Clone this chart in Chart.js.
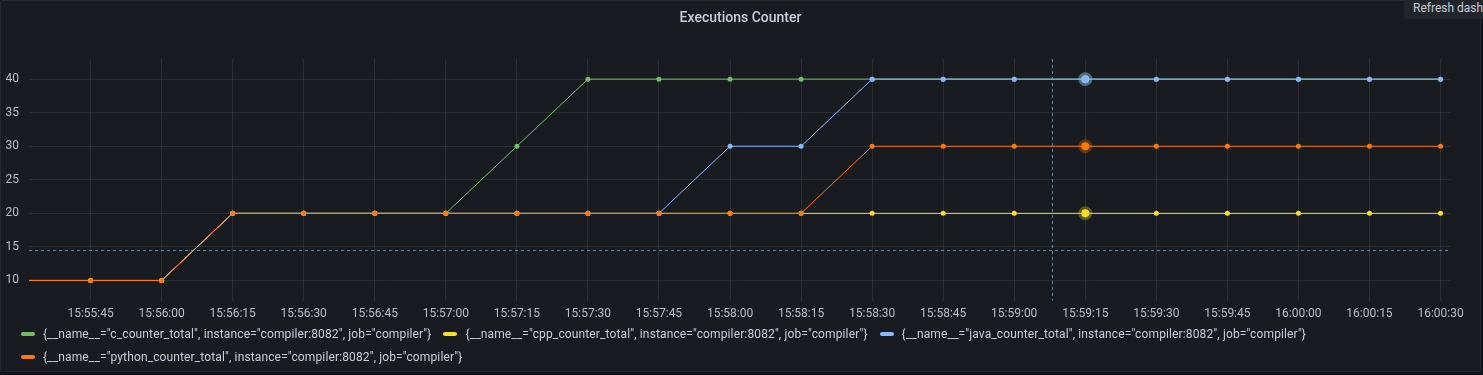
<!DOCTYPE html>
<html>
<head>
<meta charset="utf-8">
<script src="https://cdn.jsdelivr.net/npm/chart.js@4"></script>
<style>
  html, body { margin: 0; padding: 0; background: #111217; overflow: hidden; }
  body { width: 1483px; height: 375px; position: relative; font-family: Roboto, "Noto Sans", sans-serif; }
  #panel { position: absolute; left: 0; top: 0; width: 1479px; height: 370px; background: #181b1f;
           border: 1px solid rgba(204,204,220,0.08); border-radius: 2px; }
  #title { position: absolute; left: 0; top: 8px; width: 1479px; text-align: center;
           color: #ccccdc; font-size: 14px; font-weight: 500; }
  #chartbox { position: absolute; left: 0; top: 0; width: 1479px; height: 326px; }
  #legend { position: absolute; left: 20px; top: 321px; width: 1440px; display: flex; flex-wrap: wrap;
            color: #ccccdc; font-size: 12px; letter-spacing: 0.13px; }
  .item { display: flex; align-items: center; height: 23px; margin-right: 12px; white-space: nowrap; }
  .swatch { width: 14px; height: 4px; border-radius: 2px; margin-right: 8px; }
  #tip { position: absolute; left: 1404px; top: 0; width: 120px; height: 19px; background: #22252b;
         color: #ccccdc; font-size: 12px; line-height: 17px; padding-left: 9px; white-space: nowrap;
         border-radius: 2px; }
</style>
</head>
<body>
<div id="panel">
  <div id="chartbox"><canvas id="chart"></canvas></div>
  <div id="title">Executions Counter</div>
  <div id="legend"></div>
</div>
<div id="tip">Refresh dashboard</div>
<script>
// scrape times (every 15s)
const times = ['15:55:30', '15:55:45', '15:56:00', '15:56:15', '15:56:30', '15:56:45', '15:57:00',
  '15:57:15', '15:57:30', '15:57:45', '15:58:00', '15:58:15', '15:58:30', '15:58:45', '15:59:00',
  '15:59:15', '15:59:30', '15:59:45', '16:00:00', '16:00:15', '16:00:30'];

const cCounter      = [10, 10, 10, 20, 20, 20, 20, 30, 40, 40, 40, 40, 40, 40, 40, 40, 40, 40, 40, 40, 40];
const cppCounter    = [10, 10, 10, 20, 20, 20, 20, 20, 20, 20, 20, 20, 20, 20, 20, 20, 20, 20, 20, 20, 20];
const javaCounter   = [10, 10, 10, 20, 20, 20, 20, 20, 20, 20, 30, 30, 40, 40, 40, 40, 40, 40, 40, 40, 40];
const pythonCounter = [10, 10, 10, 20, 20, 20, 20, 20, 20, 20, 20, 20, 30, 30, 30, 30, 30, 30, 30, 30, 30];

const seriesNames = [
  '{__name__="c_counter_total", instance="compiler:8082", job="compiler"}',
  '{__name__="cpp_counter_total", instance="compiler:8082", job="compiler"}',
  '{__name__="java_counter_total", instance="compiler:8082", job="compiler"}',
  '{__name__="python_counter_total", instance="compiler:8082", job="compiler"}'
];
const seriesColors = ['#73bf69', '#fade2a', '#8ab8ff', '#ff780a'];

const yTicks = [10, 15, 20, 25, 30, 35, 40];
const xRange = ['15:55:32', '16:00:32'];
const hoverTime = '15:59:15';
const cursor = { time: '15:59:08', value: 14.5 };

function toSec(t) {
  const p = t.split(':').map(Number);
  return p[0] * 3600 + p[1] * 60 + p[2];
}
function fmt(s) {
  const h = Math.floor(s / 3600), m = Math.floor(s / 60) % 60, sec = s % 60;
  return [h, m, sec].map(v => String(v).padStart(2, '0')).join(':');
}

const hoverIdx = times.indexOf(hoverTime);
const allSeries = [cCounter, cppCounter, javaCounter, pythonCounter];

function alpha(hex, a) {
  const n = parseInt(hex.slice(1), 16);
  return `rgba(${n >> 16},${(n >> 8) & 255},${n & 255},${a})`;
}

const datasets = allSeries.map((vals, i) => ({
  label: seriesNames[i],
  data: vals.map((v, j) => ({ x: toSec(times[j]), y: v })),
  borderColor: seriesColors[i],
  backgroundColor: seriesColors[i],
  borderWidth: 1,
  pointBackgroundColor: seriesColors[i],
  pointBorderColor: alpha(seriesColors[i], 0.3),
  pointRadius: ctx => ctx.dataIndex === hoverIdx ? 4 : 2.5,
  pointBorderWidth: ctx => ctx.dataIndex === hoverIdx ? 6 : 0,
  order: allSeries.length - i,
  tension: 0
}));

// grafana style crosshair
const crosshair = {
  id: 'crosshair',
  beforeDatasetsDraw(chart) {
    const { ctx, chartArea: a, scales } = chart;
    const x = scales.x.getPixelForValue(toSec(cursor.time));
    const y = scales.y.getPixelForValue(cursor.value);
    ctx.save();
    ctx.strokeStyle = 'rgba(95,150,185,0.9)';
    ctx.lineWidth = 1;
    ctx.setLineDash([3, 3]);
    ctx.beginPath();
    ctx.moveTo(Math.round(x) + 0.5, a.top);
    ctx.lineTo(Math.round(x) + 0.5, a.bottom);
    ctx.moveTo(a.left, Math.round(y) + 0.5);
    ctx.lineTo(a.right, Math.round(y) + 0.5);
    ctx.stroke();
    ctx.restore();
  }
};

const gridColor = 'rgba(204,204,220,0.1)';
const tickColor = 'rgba(204,204,220,0.9)';

new Chart(document.getElementById('chart'), {
  type: 'line',
  data: { datasets: datasets },
  plugins: [crosshair],
  options: {
    responsive: true,
    maintainAspectRatio: false,
    animation: false,
    layout: { padding: { top: 58, left: 4, right: 30, bottom: 0 } },
    plugins: { legend: { display: false }, tooltip: { enabled: false } },
    events: [],
    scales: {
      x: {
        type: 'linear',
        min: toSec(xRange[0]),
        max: toSec(xRange[1]),
        afterBuildTicks: axis => {
          const ticks = [];
          for (let s = Math.ceil(axis.min / 15) * 15; s <= axis.max; s += 15) ticks.push({ value: s });
          axis.ticks = ticks;
        },
        ticks: {
          color: tickColor,
          font: { family: 'Roboto', size: 12 },
          padding: 6,
          maxRotation: 0,
          autoSkip: false,
          callback: v => fmt(v)
        },
        grid: { color: gridColor, drawTicks: false },
        border: { display: false }
      },
      y: {
        min: 7,
        max: 43,
        afterBuildTicks: axis => { axis.ticks = yTicks.map(v => ({ value: v })); },
        afterFit: axis => { axis.width = 24; },
        ticks: {
          color: tickColor,
          font: { family: 'Roboto', size: 12 },
          padding: 10
        },
        grid: { color: gridColor, drawTicks: false },
        border: { display: false }
      }
    }
  }
});

// legend
const legend = document.getElementById('legend');
seriesNames.forEach((name, i) => {
  const item = document.createElement('div');
  item.className = 'item';
  item.innerHTML = `<span class="swatch" style="background:${seriesColors[i]}"></span><span></span>`;
  item.lastChild.textContent = name;
  legend.appendChild(item);
});
</script>
</body>
</html>
